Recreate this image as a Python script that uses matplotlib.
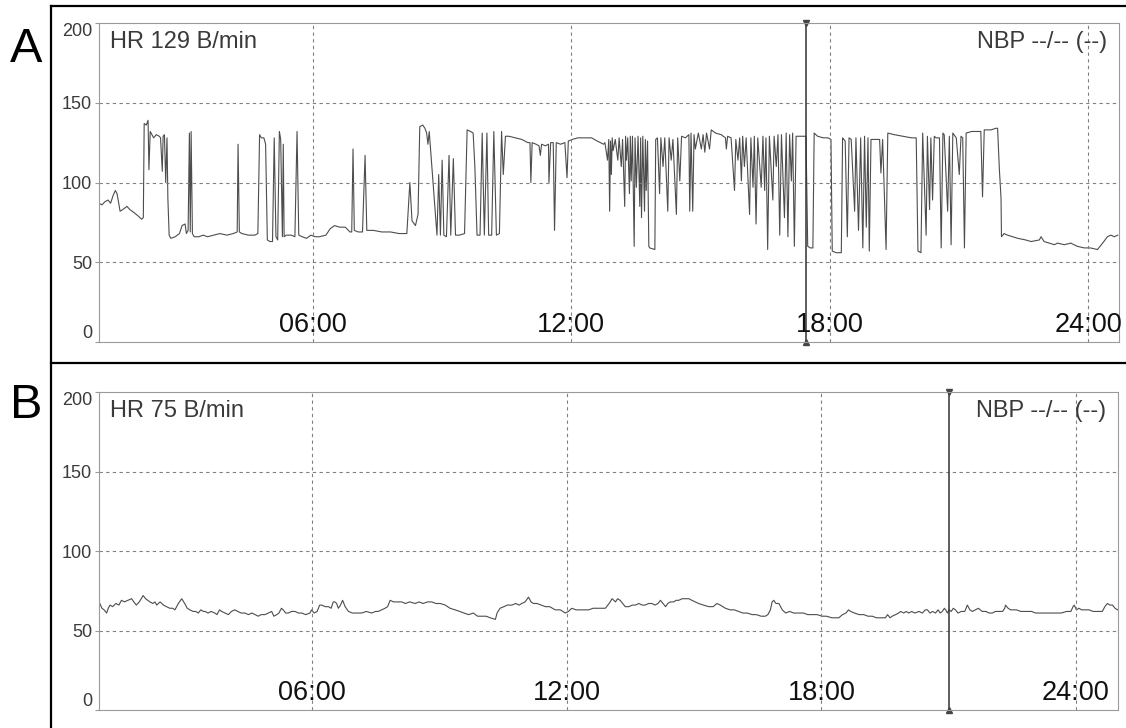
import numpy as np
import matplotlib
matplotlib.use('Agg')
import matplotlib.pyplot as plt
import matplotlib.transforms as mtransforms
from matplotlib.lines import Line2D

plt.rcParams['font.family'] = ['Liberation Sans', 'DejaVu Sans']

# --- data (time in hours, HR in beats/min) ---
y_ticks = [0, 50, 100, 150, 200]
hour_grid = [6, 12, 18, 24]
hour_labels = ['06:00', '12:00', '18:00', '24:00']

# panel A, night to early morning
a1_t = [1.03, 1.10, 1.17, 1.24, 1.30, 1.36, 1.41, 1.45, 1.52, 1.58,
        1.68, 1.75, 1.85, 1.94, 2.02, 2.06, 2.08, 2.13, 2.17, 2.19,
        2.22, 2.26, 2.30, 2.36, 2.43, 2.46, 2.50, 2.52, 2.55, 2.58,
        2.61, 2.63, 2.66, 2.70, 2.80, 2.90, 2.96, 3.03, 3.06, 3.10,
        3.13, 3.15, 3.17, 3.20, 3.24, 3.35, 3.45, 3.55, 3.70, 3.84,
        4.00, 4.15, 4.24, 4.26, 4.29, 4.35, 4.50, 4.65, 4.72, 4.76,
        4.80, 4.86, 4.90, 4.94, 5.00, 5.06, 5.10, 5.14, 5.18, 5.22,
        5.25, 5.29, 5.31, 5.33, 5.38, 5.50, 5.58, 5.63, 5.67, 5.75,
        5.85, 5.95, 6.05, 6.15, 6.30, 6.40, 6.50, 6.62, 6.75, 6.86,
        6.90, 6.93, 6.96]
a1_hr = [87, 86, 88, 89, 87, 92, 95, 93, 82, 83,
         85, 83, 81, 79, 77, 78, 137, 136, 139, 108,
         132, 130, 128, 130, 129, 128, 107, 129, 130, 100,
         128, 90, 67, 65, 66, 68, 73, 74, 68, 70,
         131, 69, 132, 68, 66, 66, 67, 66, 67, 68,
         67, 68, 69, 124, 69, 68, 67, 67, 68, 130,
         128, 128, 124, 64, 63, 63, 128, 66, 64, 132,
         127, 66, 124, 66, 67, 67, 66, 132, 67, 66,
         65, 67, 66, 66, 67, 71, 73, 72, 72, 69,
         69, 121, 70]

# panel A, morning to noon
a2_t = [7.05, 7.15, 7.21, 7.25, 7.40, 7.60, 7.80, 8.00, 8.18, 8.25,
        8.30, 8.38, 8.44, 8.48, 8.55, 8.60, 8.64, 8.67, 8.70, 8.76,
        8.83, 8.88, 8.92, 8.96, 9.00, 9.04, 9.10, 9.16, 9.20, 9.26,
        9.31, 9.40, 9.52, 9.58, 9.66, 9.72, 9.76, 9.81, 9.88, 9.93,
        9.98, 10.04, 10.08, 10.15, 10.20, 10.26, 10.33, 10.38, 10.42, 10.47,
        10.55, 10.70, 10.85, 10.99, 11.04, 11.06, 11.09, 11.18, 11.25, 11.28,
        11.31, 11.40, 11.47, 11.48, 11.52, 11.58, 11.61, 11.65, 11.75, 11.85,
        11.90, 11.93, 12.02, 12.15, 12.24, 12.35, 12.47, 12.60, 12.75]
a2_hr = [69, 69, 117, 70, 70, 69, 69, 68, 68, 100,
         76, 73, 80, 135, 136, 134, 131, 124, 132, 110,
         85, 67, 105, 67, 114, 67, 66, 117, 67, 115,
         67, 67, 68, 133, 132, 131, 110, 67, 67, 131,
         67, 131, 67, 67, 132, 67, 68, 132, 105, 129,
         129, 128, 127, 125, 125, 100, 125, 124, 123, 117,
         124, 123, 124, 100, 125, 125, 70, 125, 124, 125,
         103, 126, 127, 128, 128, 128, 128, 126, 124]

# panel A, afternoon
a3_t = [12.78, 12.84, 12.87, 12.89, 12.91, 12.93, 12.95, 12.97, 13.02, 13.08,
        13.11, 13.16, 13.19, 13.24, 13.26, 13.28, 13.31, 13.35, 13.37, 13.39,
        13.42, 13.46, 13.48, 13.51, 13.55, 13.59, 13.61, 13.63, 13.66, 13.70,
        13.72, 13.74, 13.77, 13.80, 13.82, 13.94, 13.96, 14.00, 14.05, 14.08,
        14.13, 14.17, 14.24, 14.27, 14.32, 14.36, 14.44, 14.47, 14.52, 14.56,
        14.65, 14.73, 14.75, 14.78, 14.82, 14.85, 14.88, 14.95, 15.02, 15.06,
        15.10, 15.14, 15.21, 15.25, 15.35, 15.48, 15.58, 15.60, 15.63, 15.71,
        15.79, 15.82, 15.87, 15.91, 15.95, 15.98, 16.02, 16.06, 16.14, 16.17,
        16.22, 16.25, 16.29, 16.33, 16.41, 16.45, 16.49, 16.52, 16.56, 16.60,
        16.68, 16.71, 16.76, 16.80, 16.84, 16.88, 16.95, 16.99, 17.03, 17.07,
        17.11, 17.14, 17.18, 17.22, 17.30, 17.45, 17.49, 17.55, 17.61, 17.64,
        17.72, 17.85, 17.96, 18.03, 18.06, 18.15, 18.27, 18.30]
a3_hr = [125, 114, 127, 82, 126, 105, 128, 120, 127, 114,
         128, 110, 127, 85, 129, 114, 128, 93, 129, 101,
         129, 60, 128, 97, 129, 85, 128, 78, 129, 82,
         127, 95, 126, 60, 59, 58, 127, 128, 93, 128,
         110, 128, 82, 128, 114, 127, 80, 128, 101, 129,
         128, 130, 82, 131, 82, 130, 121, 131, 121, 130,
         119, 131, 121, 133, 131, 130, 128, 121, 129, 128,
         95, 127, 114, 128, 101, 129, 110, 128, 80, 128,
         97, 129, 74, 128, 97, 129, 95, 128, 58, 129,
         89, 129, 110, 130, 67, 130, 78, 131, 66, 130,
         101, 131, 60, 129, 129, 129, 60, 59, 59, 131,
         129, 128, 128, 127, 57, 56, 56, 128]

# panel A, evening to midnight
a4_t = [18.36, 18.41, 18.45, 18.50, 18.58, 18.61, 18.67, 18.72, 18.77, 18.81,
        18.85, 18.89, 18.92, 18.96, 19.05, 19.16, 19.19, 19.23, 19.31, 19.35,
        19.50, 19.70, 19.90, 20.01, 20.05, 20.12, 20.16, 20.24, 20.27, 20.32,
        20.35, 20.39, 20.43, 20.47, 20.55, 20.59, 20.63, 20.66, 20.74, 20.78,
        20.82, 20.86, 20.94, 21.01, 21.05, 21.09, 21.13, 21.17, 21.30, 21.51,
        21.55, 21.59, 21.75, 21.86, 21.90, 21.94, 21.98, 21.99, 22.05, 22.13,
        22.37, 22.55, 22.68, 22.87, 22.91, 22.98, 23.22, 23.29, 23.45, 23.60,
        23.75, 23.91, 24.05, 24.22, 24.34, 24.45, 24.53, 24.61, 24.69]
a4_hr = [126, 66, 128, 127, 82, 128, 70, 128, 59, 129,
         72, 128, 57, 127, 127, 127, 106, 127, 58, 131,
         130, 129, 128, 128, 57, 56, 131, 67, 129, 83,
         128, 89, 129, 128, 128, 59, 131, 130, 82, 129,
         61, 131, 128, 105, 129, 128, 59, 131, 132, 132,
         91, 133, 133, 134, 134, 109, 90, 66, 68, 67,
         65, 64, 63, 64, 66, 63, 61, 62, 61, 62,
         60, 59, 59, 58, 62, 66, 67, 66, 67]

# panel B, first half of the day
b1_t = [1.00, 1.05, 1.10, 1.16, 1.20, 1.24, 1.30, 1.38, 1.45, 1.51,
        1.58, 1.66, 1.75, 1.80, 1.86, 1.93, 2.02, 2.08, 2.13, 2.18,
        2.25, 2.30, 2.34, 2.42, 2.50, 2.57, 2.65, 2.72, 2.77, 2.85,
        2.93, 3.00, 3.06, 3.12, 3.20, 3.26, 3.32, 3.38, 3.44, 3.48,
        3.55, 3.62, 3.71, 3.76, 3.82, 3.87, 3.95, 4.03, 4.10, 4.18,
        4.25, 4.33, 4.42, 4.50, 4.58, 4.66, 4.73, 4.80, 4.89, 4.97,
        5.05, 5.10, 5.17, 5.22, 5.28, 5.32, 5.38, 5.44, 5.52, 5.60,
        5.68, 5.76, 5.85, 5.95, 5.99, 6.05, 6.12, 6.18, 6.23, 6.31,
        6.39, 6.45, 6.50, 6.54, 6.58, 6.62, 6.67, 6.72, 6.78, 6.86,
        6.95, 7.05, 7.17, 7.28, 7.40, 7.50, 7.56, 7.64, 7.72, 7.78,
        7.84, 7.92, 8.00, 8.11, 8.20, 8.30, 8.43, 8.52, 8.62, 8.72,
        8.82, 8.92, 9.02, 9.14, 9.25, 9.37, 9.48, 9.58, 9.69, 9.80,
        9.90, 10.00, 10.10, 10.20, 10.32, 10.36, 10.43, 10.52, 10.60, 10.71,
        10.80, 10.88, 10.94, 11.02, 11.10, 11.16, 11.22, 11.30, 11.40, 11.50,
        11.60, 11.73, 11.85, 11.97, 12.04, 12.12, 12.22, 12.32, 12.42, 12.52,
        12.62, 12.72, 12.82, 12.91]
b1_hr = [67, 64, 63, 61, 64, 66, 65, 67, 66, 69,
         68, 69, 70, 68, 66, 68, 72, 70, 69, 68,
         67, 68, 66, 68, 66, 65, 64, 64, 63, 67,
         70, 67, 64, 63, 62, 62, 61, 63, 62, 62,
         61, 62, 61, 60, 63, 62, 61, 60, 62, 63,
         62, 61, 61, 60, 61, 60, 59, 60, 60, 61,
         62, 59, 60, 61, 64, 63, 61, 61, 62, 62,
         61, 61, 60, 61, 63, 61, 62, 66, 66, 65,
         65, 64, 68, 68, 67, 64, 66, 69, 65, 62,
         61, 61, 61, 62, 61, 62, 62, 63, 64, 65,
         69, 68, 68, 68, 67, 68, 67, 68, 67, 68,
         68, 67, 67, 66, 64, 63, 62, 61, 60, 61,
         59, 59, 59, 58, 57, 61, 64, 65, 66, 66,
         67, 66, 67, 68, 71, 68, 67, 67, 66, 65,
         65, 63, 63, 61, 62, 64, 63, 63, 63, 63,
         64, 64, 64, 64]

# panel B, second half of the day
b2_t = [13.00, 13.07, 13.11, 13.15, 13.20, 13.26, 13.32, 13.38, 13.46, 13.55,
        13.62, 13.70, 13.78, 13.85, 13.93, 14.01, 14.08, 14.15, 14.21, 14.27,
        14.33, 14.38, 14.44, 14.52, 14.58, 14.64, 14.72, 14.80, 14.88, 14.95,
        15.03, 15.11, 15.22, 15.35, 15.45, 15.54, 15.62, 15.68, 15.74, 15.85,
        15.95, 16.05, 16.15, 16.25, 16.37, 16.47, 16.58, 16.68, 16.74, 16.80,
        16.84, 16.88, 16.93, 17.00, 17.08, 17.16, 17.25, 17.35, 17.47, 17.58,
        17.68, 17.78, 17.90, 18.02, 18.12, 18.25, 18.35, 18.41, 18.50, 18.58,
        18.64, 18.69, 18.78, 18.89, 19.00, 19.10, 19.20, 19.30, 19.40, 19.51,
        19.56, 19.62, 19.67, 19.75, 19.82, 19.87, 19.94, 20.00, 20.06, 20.13,
        20.20, 20.30, 20.38, 20.45, 20.50, 20.56, 20.62, 20.69, 20.75, 20.80,
        20.85, 20.90, 20.93, 20.97, 21.01, 21.06, 21.11, 21.16, 21.22, 21.30,
        21.38, 21.44, 21.50, 21.56, 21.63, 21.70, 21.79, 21.88, 21.95, 22.03,
        22.10, 22.19, 22.27, 22.32, 22.34, 22.40, 22.46, 22.60, 22.70, 22.82,
        22.95, 23.05, 23.13, 23.25, 23.40, 23.52, 23.65, 23.78, 23.88, 23.93,
        23.96, 24.01, 24.07, 24.13, 24.22, 24.31, 24.40, 24.50, 24.62, 24.68,
        24.74, 24.80, 24.86, 24.92, 24.98]
b2_hr = [67, 70, 69, 68, 70, 69, 67, 65, 65, 66,
         66, 67, 66, 66, 67, 67, 66, 67, 69, 67,
         65, 67, 68, 68, 69, 69, 70, 70, 70, 69,
         68, 67, 66, 65, 65, 67, 66, 65, 64, 63,
         63, 62, 61, 61, 60, 60, 59, 59, 60, 63,
         68, 69, 67, 67, 63, 61, 62, 61, 61, 61,
         60, 60, 60, 59, 59, 58, 58, 58, 60, 61,
         63, 62, 61, 60, 60, 59, 59, 58, 58, 58,
         60, 58, 59, 60, 61, 62, 61, 62, 61, 62,
         61, 62, 61, 63, 63, 61, 62, 61, 63, 61,
         62, 64, 63, 61, 63, 62, 64, 63, 61, 62,
         62, 66, 63, 62, 63, 64, 62, 62, 61, 61,
         62, 62, 62, 64, 66, 64, 63, 63, 62, 62,
         62, 61, 61, 61, 61, 61, 61, 62, 62, 65,
         66, 63, 64, 63, 63, 63, 62, 62, 62, 65,
         67, 66, 66, 64, 63]

a_t = np.concatenate([a1_t, a2_t, a3_t, a4_t])
a_hr = np.concatenate([a1_hr, a2_hr, a3_hr, a4_hr])
b_t = np.concatenate([b1_t, b2_t])
b_hr = np.concatenate([b1_hr, b2_hr])


def draw_panel(ax, t, hr, xlim, cursor, hr_text):
    ax.plot(t, hr, color='#4d4d4d', lw=0.8)
    ax.set_xlim(xlim)
    ax.set_ylim(0, 200)

    grid_style = dict(color='#808080', lw=0.8, ls=(0, (3, 3)))
    for y in y_ticks[1:-1]:
        ax.axhline(y, **grid_style)
    for h in hour_grid:
        ax.axvline(h, **grid_style)

    # cursor with small triangles at both ends
    ax.axvline(cursor, color='#333333', lw=1.1)
    ax.plot([cursor], [200], marker='v', ms=5, color='#444444', clip_on=False)
    ax.plot([cursor], [0], marker='^', ms=5, color='#444444', clip_on=False)

    ax.set_xticks([])
    ax.set_yticks(y_ticks)
    ax.set_yticklabels([str(v) for v in y_ticks])
    ax.tick_params(axis='y', length=3, color='#999999', labelsize=13,
                   labelcolor='#3a3a3a', pad=2)
    labels = ax.get_yticklabels()
    labels[0].set_va('bottom')
    labels[-1].set_va('top')

    for s in ax.spines.values():
        s.set_color('#9a9a9a')
        s.set_linewidth(0.8)

    trans = mtransforms.blended_transform_factory(ax.transData, ax.transAxes)
    for h, lbl in zip(hour_grid, hour_labels):
        ax.text(h, 0.03, lbl, transform=trans, ha='center', va='baseline',
                fontsize=19.5, color='#111111')

    ax.text(0.011, 0.975, hr_text, transform=ax.transAxes, ha='left', va='top',
            fontsize=17, color='#3a3a3a')
    ax.text(0.988, 0.975, 'NBP --/-- (--)', transform=ax.transAxes, ha='right',
            va='top', fontsize=17, color='#3a3a3a')


fig = plt.figure(figsize=(11.26, 7.28), dpi=100)
ax_a = fig.add_axes([0.0879, 0.5302, 0.9059, 0.4382])
ax_b = fig.add_axes([0.0879, 0.0247, 0.9050, 0.4368])

draw_panel(ax_a, a_t, a_hr, (1.03, 24.72), 17.46, 'HR 129 B/min')
draw_panel(ax_b, b_t, b_hr, (0.98, 24.99), 21.0, 'HR 75 B/min')

# outer frame lines and panel letters
fig.add_artist(Line2D([0.0453, 0.0453], [0.0, 0.9918], color='black', lw=1.6,
                      transform=fig.transFigure))
fig.add_artist(Line2D([0.0453, 1.0], [0.9918, 0.9918], color='black', lw=1.6,
                      transform=fig.transFigure))
fig.add_artist(Line2D([0.0453, 1.0], [0.5014, 0.5014], color='black', lw=1.6,
                      transform=fig.transFigure))
fig.text(0.009, 0.915, 'A', fontsize=35, va='baseline', ha='left')
fig.text(0.009, 0.426, 'B', fontsize=35, va='baseline', ha='left')

fig.savefig('out.png', dpi=100)
